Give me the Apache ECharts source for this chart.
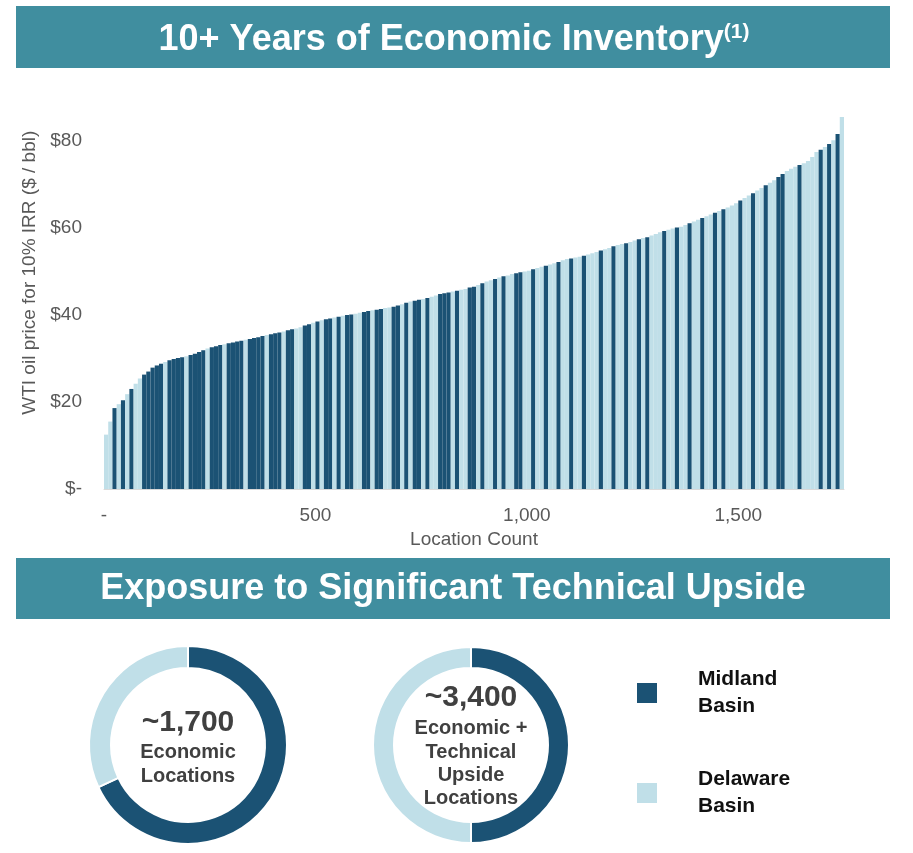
<!DOCTYPE html>
<html><head><meta charset="utf-8">
<script src="https://cdn.jsdelivr.net/npm/echarts@6/dist/echarts.min.js"></script>
<style>html,body{margin:0;padding:0;background:#fff}#c{width:913px;height:853px}</style>
</head><body><div id="c"></div>
<script>
// ---- data ----
const bucketSize = 10; // each bar = 10 locations, sorted ascending
const breakevenPrices = [
  12.5, 15.5, 18.6, 19.5, 20.4, 21.8, 23.0, 24.2, 25.4, 26.3,
  27.0, 27.9, 28.4, 28.8, 29.2, 29.6, 29.9, 30.1, 30.3, 30.5,
  30.8, 31.1, 31.5, 31.9, 32.3, 32.6, 32.8, 33.1, 33.3, 33.5,
  33.7, 33.9, 34.1, 34.3, 34.5, 34.7, 34.9, 35.2, 35.4, 35.6,
  35.8, 36.0, 36.2, 36.5, 36.7, 36.9, 37.2, 37.6, 37.9, 38.2,
  38.5, 38.8, 39.0, 39.2, 39.4, 39.6, 39.8, 40.0, 40.1, 40.3,
  40.5, 40.7, 40.9, 41.1, 41.2, 41.4, 41.6, 41.7, 41.9, 42.2,
  42.5, 42.8, 43.1, 43.3, 43.5, 43.7, 43.9, 44.2, 44.5, 44.8,
  45.0, 45.2, 45.4, 45.6, 45.8, 46.0, 46.3, 46.5, 46.9, 47.3,
  47.7, 48.0, 48.3, 48.6, 48.9, 49.1, 49.4, 49.6, 49.8, 50.0,
  50.2, 50.5, 50.8, 51.1, 51.3, 51.6, 51.9, 52.2, 52.6, 52.9,
  53.0, 53.2, 53.4, 53.6, 53.9, 54.2, 54.5, 54.8, 55.1, 55.4,
  55.8, 56.1, 56.3, 56.5, 56.8, 57.1, 57.4, 57.7, 57.9, 58.3,
  58.6, 59.0, 59.3, 59.6, 59.9, 60.1, 60.3, 60.7, 61.1, 61.5,
  61.9, 62.3, 62.7, 63.1, 63.5, 63.9, 64.3, 64.7, 65.2, 65.7,
  66.3, 66.9, 67.5, 68.0, 68.6, 69.2, 69.8, 70.4, 71.0, 71.7,
  72.4, 73.1, 73.6, 74.1, 74.5, 74.9, 75.4, 76.3, 77.5, 78.0,
  78.6, 79.3, 80.2, 81.6, 85.5
];
// M = Midland Basin, D = Delaware Basin (one code per bar)
const basinCodes =
  "DDMDMDMDDM" + "MMMMDMMMMD" + "MMMMDMMMDM" + "MMMDMMMMDM" + "MMDMMDDMMD" +
  "MDMMDMDMMD" + "DMMDMMDDMM" + "DMDMMDMDDM" + "MMDMDDMMDM" + "DDMDMDDMMD" +
  "DMDDMDDMDD" + "MDDMDDDMDD" + "MDDMDDMDMD" + "DDMDDMDDMD" + "DMDDMDMDDD" +
  "MDDMDDMDDM" + "MDDDMDDDDM" + "DMDMD";
const basinNames = ['Midland Basin', 'Delaware Basin'];
const economicSplit = [68, 32];   // ~1,700 economic locations
const upsideSplit = [50, 50];     // ~3,400 economic + technical upside
const yTicks = [0, 20, 40, 60, 80];
const xTicks = [0, 500, 1000, 1500];
const leftDonutText = ['~1,700', 'Economic', 'Locations'];
const rightDonutText = ['~3,400', 'Economic +', 'Technical', 'Upside', 'Locations'];

// ---- styling ----
const DARK = '#1b5274';
const LIGHT = '#c0dfe8';
const BAND = '#408e9f';
const AXIS_TXT = '#595959';
const FF = '"Liberation Sans", Arial, Helvetica, sans-serif';

const categories = breakevenPrices.map((_, i) => i * bucketSize);
const barData = breakevenPrices.map((v, i) => ({
  value: v,
  itemStyle: { color: basinCodes[i] === 'M' ? DARK : LIGHT }
}));
const maxLoc = breakevenPrices.length * bucketSize;

function pieData(split) {
  return basinNames.map((n, i) => ({ name: n, value: split[i] }));
}
function donutLines(lines, cx, ys, sizes) {
  return lines.map((t, i) => ({
    type: 'text', x: cx, y: ys[i],
    style: {
      text: t, fill: '#404040', textAlign: 'center', textVerticalAlign: 'middle',
      font: 'bold ' + sizes[i] + 'px ' + FF
    }
  }));
}

const chart = echarts.init(document.getElementById('c'), null, { renderer: 'canvas' });
chart.setOption({
  animation: false,
  color: [DARK, LIGHT],
  textStyle: { fontFamily: FF },
  grid: { left: 104, right: 69, top: 97.5, bottom: 364, containLabel: false },
  xAxis: [
    {
      type: 'category', data: categories, position: 'top', show: false,
      boundaryGap: true
    },
    {
      type: 'value', position: 'bottom', min: 0, max: maxLoc, interval: 500,
      name: 'Location Count', nameLocation: 'middle', nameGap: 41,
      nameTextStyle: { color: AXIS_TXT, fontSize: 19, fontFamily: FF },
      axisLine: { show: true, lineStyle: { color: '#d9d9d9', width: 1 } },
      axisTick: { show: false },
      splitLine: { show: false },
      axisLabel: {
        color: AXIS_TXT, fontSize: 19, fontFamily: FF, margin: 17,
        formatter: v => xTicks.includes(v) ? (v === 0 ? '-' : v.toLocaleString('en-US')) : ''
      }
    }
  ],
  yAxis: {
    type: 'value', min: 0, max: 90, interval: 20,
    name: 'WTI oil price for 10% IRR ($ / bbl)', nameLocation: 'middle', nameGap: 59,
    nameTextStyle: { color: AXIS_TXT, fontSize: 19, fontFamily: FF, padding: [0, 0, 0, 41] },
    axisLine: { show: false }, axisTick: { show: false }, splitLine: { show: false },
    axisLabel: {
      color: AXIS_TXT, fontSize: 19, fontFamily: FF, margin: 22,
      formatter: v => yTicks.includes(v) ? (v === 0 ? '$-' : '$' + v) : ''
    }
  },
  legend: {
    orient: 'vertical', left: 635, top: 666, padding: 0,
    itemWidth: 22, itemHeight: 22, itemGap: 46, icon: 'rect',
    data: basinNames,
    formatter: n => n.replace(' ', '\n'),
    textStyle: { color: '#111', fontSize: 21, fontWeight: 'bold', fontFamily: FF, lineHeight: 27, padding: [0, 0, 0, 35] },
    selectedMode: false
  },
  series: [
    {
      type: 'bar', xAxisIndex: 0, yAxisIndex: 0, data: barData,
      barCategoryGap: '0%', barGap: '0%', silent: true
    },
    {
      type: 'pie', center: [188, 745], radius: [77, 99], startAngle: 90, clockwise: true,
      data: pieData(economicSplit), label: { show: false }, labelLine: { show: false },
      itemStyle: { borderColor: '#fff', borderWidth: 2 }, silent: true
    },
    {
      type: 'pie', center: [471, 745], radius: [77, 98], startAngle: 90, clockwise: true,
      data: pieData(upsideSplit), label: { show: false }, labelLine: { show: false },
      itemStyle: { borderColor: '#fff', borderWidth: 2 }, silent: true
    }
  ],
  graphic: [
    { type: 'rect', shape: { x: 16, y: 6, width: 874, height: 62 }, style: { fill: BAND }, z: -1 },
    { type: 'rect', shape: { x: 16, y: 558, width: 874, height: 61 }, style: { fill: BAND }, z: -1 },
    {
      type: 'text', x: 454, y: 40,
      style: {
        text: '{m|10+ Years of Economic Inventory}{s|(1)}',
        textAlign: 'center', textVerticalAlign: 'middle',
        rich: {
          m: { fill: '#fff', font: 'bold 36px ' + FF, verticalAlign: 'bottom' },
          s: { fill: '#fff', font: 'bold 21px ' + FF, verticalAlign: 'top' }
        }
      }
    },
    {
      type: 'text', x: 453, y: 589,
      style: {
        text: 'Exposure to Significant Technical Upside', fill: '#fff',
        textAlign: 'center', textVerticalAlign: 'middle', font: 'bold 36px ' + FF
      }
    }
  ].concat(
    donutLines(leftDonutText, 188, [723, 752, 776], [30, 20, 20]),
    donutLines(rightDonutText, 471, [698, 728, 752, 775, 798], [30, 20, 20, 20, 20])
  )
});
</script></body></html>
